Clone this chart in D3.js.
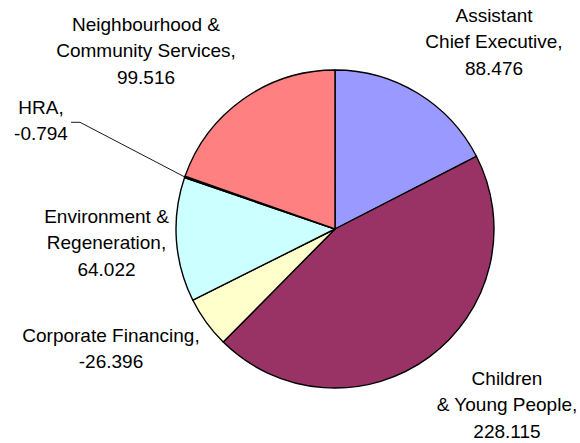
<!DOCTYPE html>
<html>
<head>
<meta charset="utf-8">
<script src="https://cdn.jsdelivr.net/npm/d3@7"></script>
<style>
  html, body { margin: 0; padding: 0; background: #fff; }
  svg { display: block; }
  text { font-family: "Liberation Sans", Arial, sans-serif; font-size: 19px; fill: #000; }
</style>
</head>
<body>
<svg id="chart" width="580" height="443"></svg>
<script>
// Budget by directorate
const categories = [
  "Assistant\nChief Executive",
  "Children\n& Young People",
  "Corporate Financing",
  "Environment &\nRegeneration",
  "HRA",
  "Neighbourhood &\nCommunity Services"
];
const values = [88.476, 228.115, -26.396, 64.022, -0.794, 99.516];
const colors = ["#9999FF", "#993366", "#FFFFCC", "#CCFFFF", "#660066", "#FF8080"];

// Label anchor (centre x, first baseline y) for each slice
const labelPos = [
  [494, 21.5],
  [507, 384.5],
  [111, 341.5],
  [106.5, 222.5],
  [41, 113.5],
  [146, 30.5]
];
const lineHeight = 26.7;

const width = 580, height = 443;
const cx = 335, cy = 229, radius = 159;

const svg = d3.select("#chart");
const g = svg.append("g").attr("transform", `translate(${cx},${cy})`);

const data = categories.map((c, i) => ({ name: c, value: values[i], color: colors[i], idx: i }));

// Slices are sized by magnitude; negative amounts still take a share
const pie = d3.pie().sort(null).value(d => Math.abs(d.value));
const arcs = pie(data);
const arc = d3.arc().innerRadius(0).outerRadius(radius);

g.selectAll("path.slice")
  .data(arcs)
  .join("path")
  .attr("class", "slice")
  .attr("d", arc)
  .attr("fill", d => d.data.color)
  .attr("stroke", "#000")
  .attr("stroke-width", 1.4)
  .attr("stroke-linejoin", "round");

// Plain hyphen for negatives
const fmt = d3.formatLocale({ decimal: ".", thousands: ",", grouping: [3], currency: ["", ""], minus: "-" }).format(".3f");

// Data labels
const labels = svg.selectAll("text.label")
  .data(arcs)
  .join("text")
  .attr("class", "label")
  .attr("text-anchor", "middle")
  .attr("x", d => labelPos[d.data.idx][0])
  .attr("y", d => labelPos[d.data.idx][1]);

labels.each(function(d) {
  const lines = d.data.name.split("\n");
  lines[lines.length - 1] += ",";
  lines.push(fmt(d.data.value));
  const t = d3.select(this);
  const x = labelPos[d.data.idx][0];
  lines.forEach((ln, k) => {
    t.append("tspan")
      .attr("x", x)
      .attr("dy", k === 0 ? 0 : lineHeight)
      .attr("xml:space", "preserve")
      .text(ln);
  });
});

// Leader line for the small HRA slice
const hra = arcs[4];
const mid = (hra.startAngle + hra.endAngle) / 2;
const edge = d3.pointRadial(mid, radius);
svg.append("polyline")
  .attr("points", [[71, 122.3], [80, 122.3], [cx + edge[0], cy + edge[1]]].map(p => p.join(",")).join(" "))
  .attr("fill", "none")
  .attr("stroke", "#000")
  .attr("stroke-width", 0.9);
</script>
</body>
</html>
